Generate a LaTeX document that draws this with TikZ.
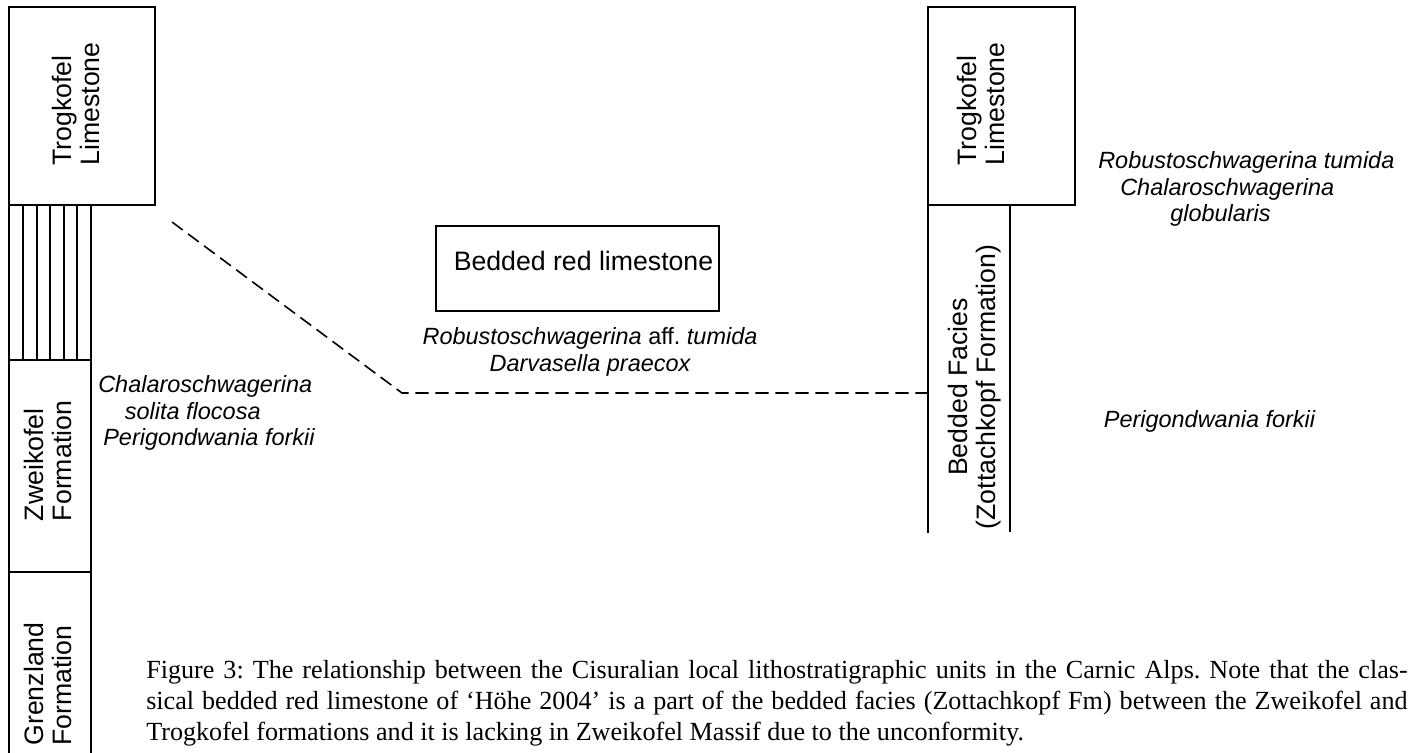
\documentclass[tikz,border=0pt]{standalone}
\usepackage{fontspec}
\setmainfont{Liberation Serif}
\setsansfont{Liberation Sans}
\frenchspacing

\tikzset{
  bed/.style={line width=1.3pt},
  gapline/.style={line width=1.2pt, dash pattern=on 10pt off 5pt},
  unitname/.style={rotate=90, align=left, inner sep=0pt,
    font=\sffamily\fontsize{20}{21}\selectfont},
  plainname/.style={inner sep=0pt, font=\sffamily\fontsize{20}{21}\selectfont},
  taxa/.style={align=left, inner sep=0pt,
    font=\sffamily\itshape\fontsize{17.6}{20}\selectfont},
  figcaption/.style={align=left, inner sep=0pt,
    font=\fontsize{19.6}{23.25}\selectfont}
}

\begin{document}
\begin{tikzpicture}[x=0.75pt,y=-0.75pt]
\useasboundingbox (0,0) rectangle (1414,753);

% Zweikofel Massif column
\draw[bed] (9,7) rectangle (155,205);
\draw[bed] (9,205) rectangle (91,360);
\foreach \xs in {23,37,50,64,77}
  \draw[bed] (\xs,205) -- (\xs,360);
\draw[bed] (9,360) rectangle (91,572);
\draw[bed] (9,753) -- (9,572) (91,572) -- (91,753);

\node[unitname] (trogL) at (76,104) {Trogkofel\\Limestone};
\node[unitname] (zwei) at (48,461) {Zweikofel\\Formation};
\node[unitname] (grenz) at (48,684) {Grenzland\\Formation};

\node[taxa, anchor=west] (taxaL) at (98,413)
  {Chalaroschwagerina\\\hspace*{20pt}solita flocosa\\\hspace*{3.8pt}Perigondwania forkii};

% red limestone
\draw[bed] (436,226) rectangle (719,311);
\node[plainname] (redlst) at (583.5,261) {Bedded red limestone};
\node[taxa, align=center] (taxaM) at (590,352)
  {Robustoschwagerina {\upshape aff.} tumida\\Darvasella praecox};

% other column
\draw[bed] (928,7) rectangle (1075,205);
\draw[bed] (928,205) -- (928,533) (1010,205) -- (1010,532);
\node[unitname] (trogR) at (981,104) {Trogkofel\\Limestone};
\node[unitname, align=center] (zott) at (975,387)
  {Bedded Facies\\(Zottachkopf Formation)};

\node[taxa, anchor=west] (taxaR) at (1098,189)
  {Robustoschwagerina tumida\\\hspace*{16.5pt}Chalaroschwagerina\\\hspace*{54pt}globularis};
\node[taxa] (perR) at (1209.5,421) {Perigondwania forkii};

% unconformity
\coordinate (unc) at (172,222);
\coordinate (bend) at (402,393);
\coordinate (zottL) at (928,393);
\draw[gapline] (unc) -- (bend) -- (zottL);

\node[figcaption, anchor=north west] (cap) at (146,660)
  {\makebox[946pt][s]{Figure 3: The relationship between the Cisuralian local lithostratigraphic units in the Carnic Alps. Note that the clas-}\\
   \makebox[946pt][s]{sical bedded red limestone of ‘Höhe 2004’ is a part of the bedded facies (Zottachkopf Fm) between the Zweikofel and}\\
   Trogkofel formations and it is lacking in Zweikofel Massif due to the unconformity.};
\end{tikzpicture}
\end{document}
